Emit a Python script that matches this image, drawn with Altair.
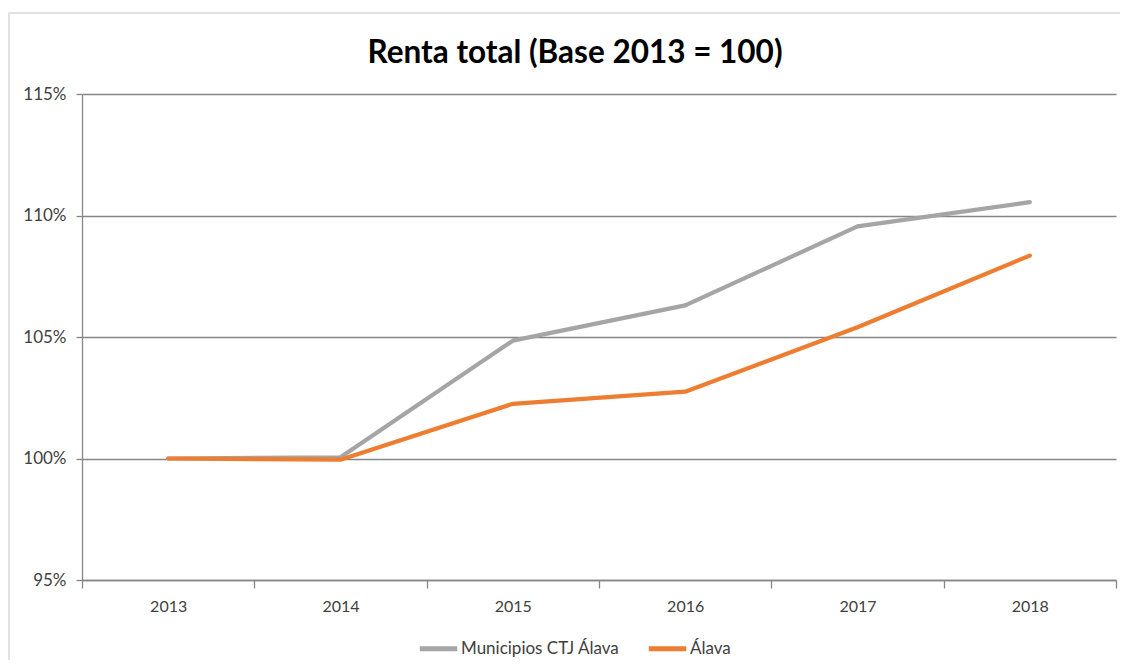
import altair as alt
import pandas as pd

years = ["2013", "2014", "2015", "2016", "2017", "2018"]
municipios = [100.0, 100.05, 104.85, 106.3, 109.55, 110.55]
alava = [100.0, 99.95, 102.25, 102.75, 105.4, 108.35]
series_names = ["Municipios CTJ Álava", "Álava"]
colors = ["#A5A5A5", "#ED7D31"]
y_ticks = [95, 100, 105, 110, 115]
title_text = "Renta total (Base 2013 = 100)"

rows = []
for name, vals in zip(series_names, [municipios, alava]):
    for yr, v in zip(years, vals):
        rows.append({"year": yr, "value": v, "serie": name})
df = pd.DataFrame(rows)

FONT = "Lato"
W, H = 1034, 486

base = alt.Chart(df)

lines = base.mark_line(strokeWidth=4.2, strokeCap="round", strokeJoin="round").encode(
    x=alt.X(
        "year:N",
        sort=years,
        scale=alt.Scale(type="band", paddingInner=0, paddingOuter=0),
        axis=alt.Axis(
            title=None,
            labelAngle=0,
            tickBand="extent",
            tickSize=8,
            tickColor="#868686",
            tickWidth=1.3,
            domainColor="#868686",
            domainWidth=1.3,
            labelPadding=10,
            labelFontSize=16,
            labelColor="#404040",
            labelFont=FONT,
            grid=False,
        ),
    ),
    y=alt.Y(
        "value:Q",
        scale=alt.Scale(domain=[95, 115], nice=False, zero=False),
        axis=alt.Axis(
            title=None,
            values=y_ticks,
            labelExpr="datum.value + '%'",
            tickSize=6,
            tickColor="#868686",
            tickWidth=1.3,
            domainColor="#868686",
            domainWidth=1.3,
            gridColor="#868686",
            gridWidth=1.4,
            labelPadding=10,
            labelFontSize=17,
            labelColor="#404040",
            labelFont=FONT,
        ),
    ),
    color=alt.Color(
        "serie:N",
        scale=alt.Scale(domain=series_names, range=colors),
        sort=series_names,
        legend=alt.Legend(
            title=None,
            orient="none",
            direction="horizontal",
            legendX=335,
            legendY=533,
            padding=0,
            symbolType="stroke",
            symbolStrokeWidth=5,
            symbolSize=1400,
            labelOffset=1,
            columnPadding=18,
            labelFontSize=17,
            labelColor="#404040",
            labelFont=FONT,
        ),
    ),
    order=alt.Order("year:N"),
)

border = alt.Chart(pd.DataFrame({"a": [0]})).mark_rect(
    filled=False, stroke="#D9D9D9", strokeWidth=1.5
).encode(
    x=alt.value(-73), x2=alt.value(W + 60), y=alt.value(-81), y2=alt.value(H + 120)
)

chart = alt.layer(border, lines).properties(
    width=W,
    height=H,
    title=alt.TitleParams(
        title_text,
        font=FONT,
        fontSize=31.5,
        fontWeight="bold",
        color="#000000",
        anchor="middle",
        frame="group",
        dx=-24,
        offset=-57,
    ),
    autosize=alt.AutoSizeParams(type="none"),
    padding={"left": 74, "top": 86, "right": 4, "bottom": 80},
).configure_view(stroke=None)

chart.save("out.html", embed_options={"renderer": "svg", "actions": False})
